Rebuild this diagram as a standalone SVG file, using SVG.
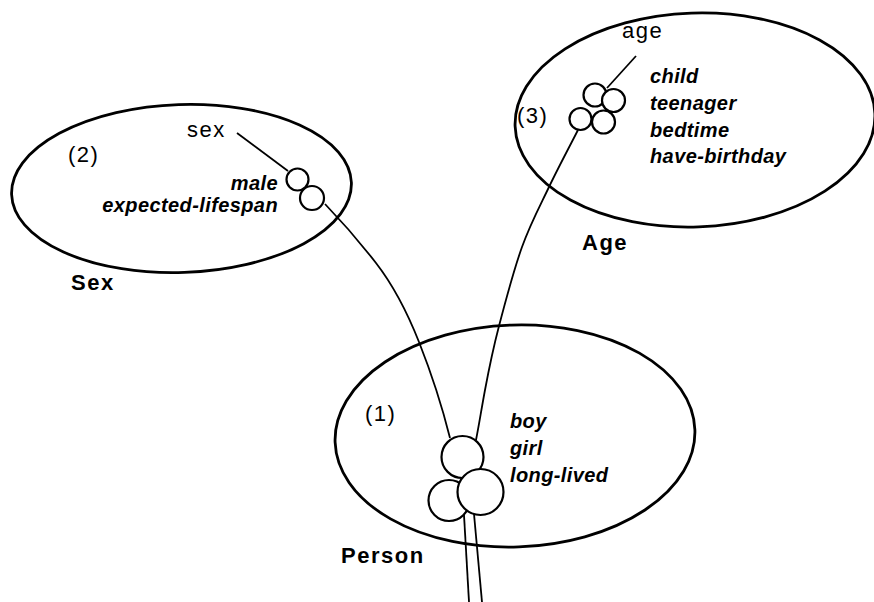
<svg xmlns="http://www.w3.org/2000/svg" width="874" height="602" viewBox="0 0 874 602">
<style>
.ell{fill:none;stroke:#000;stroke-width:2.8}
.ln{fill:none;stroke:#000;stroke-width:1.8}
.ring{fill:#fff;stroke:#000;stroke-width:2.2}
.lbl{font-family:"Liberation Sans",Arial,sans-serif;font-size:22px;letter-spacing:1.5px;fill:#000}
.ttl{font-family:"Liberation Sans",Arial,sans-serif;font-size:22px;font-weight:bold;letter-spacing:1.5px;fill:#000}
.it{font-family:"Liberation Sans",Arial,sans-serif;font-size:20px;font-weight:bold;font-style:italic;letter-spacing:0.4px;fill:#000}
</style>
<rect width="874" height="602" fill="#fff"/>
<g id="connectors">
<path class="ln" d="M237,133 L288,171"/>
<path class="ln" d="M325,204 Q352,232 376,263 T419,342 T450,438"/>
<path class="ln" d="M636,56 L607,88"/>
<path class="ln" d="M578,130 C573.2,139.5 558.3,167.5 549,187 C539.7,206.5 530.3,223.8 522,247 C513.7,270.2 505.2,302.2 499,326 C492.8,349.8 488.5,371.3 485,390 C481.5,408.7 478.5,428 476,440"/>
<path class="ln" d="M464,515 L469,602"/>
<path class="ln" d="M474,514 L482,602"/>
</g>
<g id="sex">
<ellipse class="ell" cx="181.5" cy="188.5" rx="170" ry="84" transform="rotate(-2 181.5 188.5)"/>
<text class="lbl" x="187" y="137">sex</text>
<text class="lbl" x="68" y="162">(2)</text>
<text class="it" x="278" y="190" text-anchor="end">male</text>
<text class="it" x="278" y="212" text-anchor="end">expected-lifespan</text>
<text class="ttl" x="71" y="290">Sex</text>
<circle class="ring" cx="297.5" cy="179.5" r="11"/>
<circle class="ring" cx="312" cy="198" r="12"/>
</g>
<g id="age">
<ellipse class="ell" cx="695" cy="120" rx="180" ry="107" transform="rotate(-2 695 120)"/>
<text class="lbl" x="622" y="38">age</text>
<text class="lbl" x="517" y="123">(3)</text>
<text class="it" x="650" y="83">child</text>
<text class="it" x="650" y="110">teenager</text>
<text class="it" x="650" y="137">bedtime</text>
<text class="it" x="650" y="163">have-birthday</text>
<text class="ttl" x="582" y="250">Age</text>
<circle class="ring" cx="595" cy="95" r="11.5"/>
<circle class="ring" cx="613.5" cy="100.5" r="11.5"/>
<circle class="ring" cx="580.5" cy="119" r="11"/>
<circle class="ring" cx="603.5" cy="122" r="11.5"/>
</g>
<g id="person">
<ellipse class="ell" cx="515" cy="436" rx="180" ry="111" transform="rotate(-2 515 436)"/>
<text class="lbl" x="365" y="421">(1)</text>
<text class="it" x="510" y="428">boy</text>
<text class="it" x="510" y="455">girl</text>
<text class="it" x="510" y="482">long-lived</text>
<text class="ttl" x="341" y="563">Person</text>
<circle class="ring" cx="462.5" cy="457" r="21"/>
<circle class="ring" cx="449" cy="500.5" r="20.5"/>
<circle class="ring" cx="480.5" cy="492" r="23"/>
</g>
</svg>
